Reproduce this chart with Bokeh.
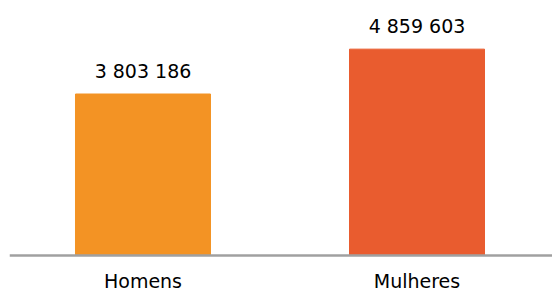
from bokeh.plotting import figure
from bokeh.models import ColumnDataSource, Range1d, LabelSet, Span
from bokeh.core.properties import value
from bokeh.embed import file_html
from bokeh.resources import INLINE

categories = ["Homens", "Mulheres"]
values = [3803186, 4859603]
labels = ["3 803 186", "4 859 603"]
colors = ["#F39324", "#E95C2F"]

FONT = "DejaVu Sans"

xs = list(range(len(categories)))
src = ColumnDataSource(dict(x=xs, top=values, label=labels, cat=categories,
                            zero=[0] * len(xs), color=colors))

p = figure(width=552, height=293, output_backend="svg", toolbar_location=None,
           x_range=Range1d(-0.4872, 1.4945), y_range=Range1d(-894900, 6005250),
           min_border_left=9, min_border_right=0, min_border_top=0, min_border_bottom=0)
p.outline_line_color = None
p.grid.visible = False
p.xaxis.visible = False
p.yaxis.visible = False

p.vbar(x="x", top="top", width=0.4927, bottom=0, color="color", source=src)

p.add_layout(Span(location=0, dimension="width", line_color="#A0A0A0", line_width=2.5))

vals = LabelSet(x="x", y="top", text="label", source=src, text_align="center",
                text_baseline="alphabetic", y_offset=16, text_font=value(FONT),
                text_font_size="19px", text_color="#000000")
p.add_layout(vals)

cats = LabelSet(x="x", y="zero", text="cat", source=src, text_align="center",
                text_baseline="alphabetic", y_offset=-32, text_font=value(FONT),
                text_font_size="19px", text_color="#000000")
p.add_layout(cats)

open("out.html", "w").write(file_html(p, INLINE))
